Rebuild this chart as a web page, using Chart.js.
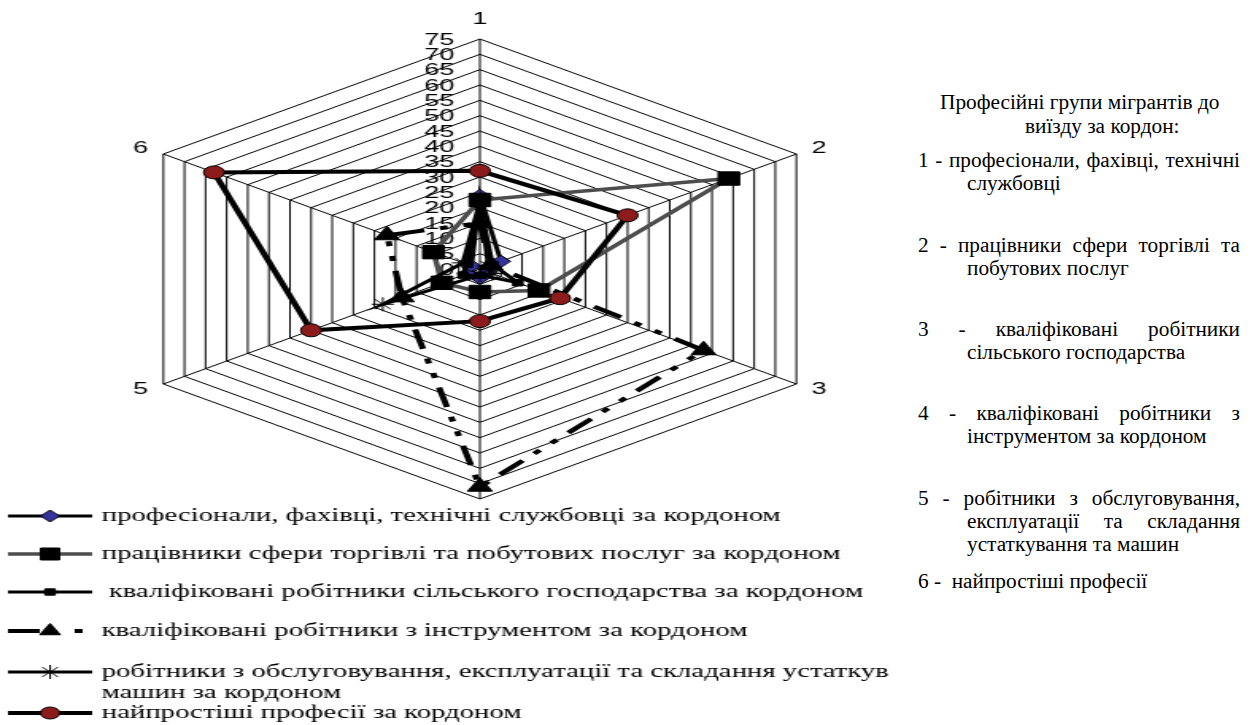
<!DOCTYPE html>
<html>
<head>
<meta charset="utf-8">
<title>Професійні групи мігрантів</title>
<script src="https://cdn.jsdelivr.net/npm/chart.js"></script>
<style>
  body { margin: 0; background: #fff; width: 1256px; height: 725px; overflow: hidden; position: relative; }
  /* the original picture is an Excel chart stretched sideways, so the canvas is stretched too */
  #wrap { position: absolute; left: 0; top: 0; width: 566px; height: 725px; transform: scaleX(1.589); transform-origin: 0 0; }
  .t { position: absolute; font-family: "Liberation Serif", "Times New Roman", serif; font-size: 21.3px; line-height: 23px; color: #000; white-space: nowrap; }
  .j { text-align: justify; text-align-last: justify; width: 322px; }
  .j2 { text-align: justify; text-align-last: justify; width: 273px; }
</style>
</head>
<body>
<div id="wrap"><canvas id="radar" width="566" height="725"></canvas></div>

<div class="t" style="left:940px; top:91px;">Професійні групи мігрантів до</div>
<div class="t" style="left:1025px; top:115px;">виїзду за кордон:</div>

<div class="t j" style="left:918px; top:149px;">1 - професіонали, фахівці, технічні</div>
<div class="t" style="left:967px; top:172px;">службовці</div>

<div class="t j" style="left:918px; top:234px;">2 - працівники сфери торгівлі та</div>
<div class="t" style="left:967px; top:257px;">побутових послуг</div>

<div class="t j" style="left:918px; top:318px;">3 - кваліфіковані робітники</div>
<div class="t" style="left:967px; top:341px;">сільського господарства</div>

<div class="t j" style="left:918px; top:402px;">4 - кваліфіковані робітники з</div>
<div class="t" style="left:967px; top:425px;">інструментом за кордоном</div>

<div class="t j" style="left:918px; top:487px;">5 - робітники з обслуговування,</div>
<div class="t j2" style="left:967px; top:510px;">експлуатації та складання</div>
<div class="t" style="left:967px; top:533px;">устаткування та машин</div>

<div class="t" style="left:918px; top:570px; white-space:pre;">6 -  найпростіші професії</div>

<script>
// axes of the radar (professional groups before leaving)
const categories = ['1', '2', '3', '4', '5', '6'];

// share of migrants abroad, %, by group before leaving
const profesionaly = [24, 5, 2, 3, 3, 2];
const torhivlia = [22.5, 59, 14, 7.5, 9, 11];
const silske = [21, 3, 9, 2, 4, 3];
const instrument = [15, 2.5, 53, 71, 18.5, 22];
const obsluhovuvannia = [22, 2, 3, 2, 23, 4];
const naiprostishi = [32, 35, 19, 17, 40, 63];

const seriesNames = [
    'професіонали, фахівці, технічні службовці за кордоном',
    'працівники сфери торгівлі та побутових послуг за кордоном',
    ' кваліфіковані робітники сільського господарства за кордоном',
    'кваліфіковані робітники з інструментом за кордоном',
    'робітники з обслуговування, експлуатації та складання устаткув\nмашин за кордоном',
    'найпростіші професії за кордоном'
];

// tick labels sit left of axis 1, like in Excel
const tickLabels = {
    id: 'tickLabels',
    beforeDatasetsDraw(chart) {
        const r = chart.scales.r;
        const ctx = chart.ctx;
        ctx.save();
        ctx.font = '17px "Liberation Sans", Arial, sans-serif';
        ctx.fillStyle = '#000';
        ctx.textAlign = 'right';
        ctx.textBaseline = 'middle';
        r.ticks.forEach(t => {
            const p = r.getPointPositionForValue(0, t.value);
            ctx.fillText(String(t.value), p.x - 16, p.y + 1);
        });
        ctx.restore();
    }
};

// category numbers outside the hexagon
const axisLabels = {
    id: 'axisLabels',
    afterDraw(chart) {
        const r = chart.scales.r;
        const ctx = chart.ctx;
        ctx.save();
        ctx.font = '17px "Liberation Sans", Arial, sans-serif';
        ctx.fillStyle = '#000';
        categories.forEach((c, i) => {
            const p = r.getPointPosition(i, r.drawingArea + 11);
            const dx = p.x - r.xCenter;
            ctx.textAlign = Math.abs(dx) < 1 ? 'center' : (dx > 0 ? 'left' : 'right');
            ctx.textBaseline = (Math.abs(dx) < 1) ? (p.y < r.yCenter ? 'bottom' : 'top') : 'middle';
            ctx.fillText(c, p.x, p.y);
        });
        ctx.restore();
    }
};

// legend with line + marker samples under the radar (white box, as in Excel)
const lineLegend = {
    id: 'lineLegend',
    afterDraw(chart) {
        const ctx = chart.ctx;
        const rows = [516, 554, 592, 631, 672, 713];
        const x0 = 5, x1 = 58, xm = 31.5, xt = 64;
        ctx.save();
        ctx.fillStyle = '#ffffff';
        ctx.fillRect(0, 502, 560, 223);
        chart.data.datasets.forEach((ds, i) => {
            const y = rows[i];
            ctx.save();
            ctx.strokeStyle = ds.borderColor;
            ctx.lineWidth = ds.borderWidth;
            ctx.setLineDash(i === 3 ? [20, 22, 5, 40] : []);
            ctx.beginPath();
            ctx.moveTo(x0, y);
            ctx.lineTo(x1, y);
            ctx.stroke();
            ctx.setLineDash([]);
            ctx.fillStyle = ds.pointBackgroundColor;
            ctx.strokeStyle = ds.pointBorderColor;
            ctx.lineWidth = ds.pointBorderWidth;
            Chart.helpers.drawPoint(ctx, {
                pointStyle: ds.pointStyle,
                radius: ds.legendRadius,
                rotation: 0,
                borderWidth: ds.pointBorderWidth
            }, xm, y);
            ctx.restore();

            ctx.fillStyle = '#000';
            ctx.font = '18.1px "Liberation Serif", "Times New Roman", serif';
            ctx.textAlign = 'left';
            ctx.textBaseline = 'alphabetic';
            ds.label.split('\n').forEach((line, k) => {
                ctx.fillText(line, xt, y + 5 + k * 21);
            });
        });
        ctx.restore();
    }
};

const ctx = document.getElementById('radar').getContext('2d');
const chart = new Chart(ctx, {
    type: 'radar',
    data: {
        labels: categories,
        datasets: [{
            label: seriesNames[0],
            data: profesionaly,
            borderColor: '#000000',
            borderWidth: 3,
            pointStyle: 'rectRot',
            pointRadius: 6,
            legendRadius: 6,
            pointBackgroundColor: '#333399',
            pointBorderColor: '#000000',
            pointBorderWidth: 1,
            order: 5
        }, {
            label: seriesNames[1],
            data: torhivlia,
            borderColor: '#4d4d4d',
            borderWidth: 3.5,
            pointStyle: 'rect',
            pointRadius: 9.5,
            legendRadius: 8.5,
            pointBackgroundColor: '#000000',
            pointBorderColor: '#000000',
            pointBorderWidth: 1,
            order: 4
        }, {
            label: seriesNames[2],
            data: silske,
            borderColor: '#000000',
            borderWidth: 3,
            pointStyle: 'rect',
            pointRadius: 4.5,
            legendRadius: 4.5,
            pointBackgroundColor: '#000000',
            pointBorderColor: '#000000',
            pointBorderWidth: 1,
            order: 3
        }, {
            label: seriesNames[3],
            data: instrument,
            borderColor: '#000000',
            borderWidth: 4,
            borderDash: [20, 10, 5, 10, 5, 10],
            pointStyle: 'triangle',
            pointRadius: 9,
            legendRadius: 7.5,
            pointBackgroundColor: '#000000',
            pointBorderColor: '#000000',
            pointBorderWidth: 1,
            order: 2
        }, {
            label: seriesNames[4],
            data: obsluhovuvannia,
            borderColor: '#000000',
            borderWidth: 3,
            pointStyle: 'star',
            pointRadius: 7,
            legendRadius: 7,
            pointBackgroundColor: '#000000',
            pointBorderColor: '#000000',
            pointBorderWidth: 1,
            order: 1
        }, {
            label: seriesNames[5],
            data: naiprostishi,
            borderColor: '#000000',
            borderWidth: 4,
            pointStyle: 'circle',
            pointRadius: 6.5,
            legendRadius: 6,
            pointBackgroundColor: '#8c1c1c',
            pointBorderColor: '#000000',
            pointBorderWidth: 1,
            order: 0
        }]
    },
    options: {
        responsive: false,
        animation: false,
        devicePixelRatio: 1,
        layout: { padding: { left: 72, right: 34, top: 39, bottom: 226 } },
        elements: { line: { tension: 0, fill: false } },
        scales: {
            r: {
                min: 0,
                max: 75,
                ticks: { stepSize: 5, display: false },
                grid: { color: '#000000', lineWidth: 1 },
                angleLines: { color: '#000000', lineWidth: 1 },
                pointLabels: { display: false }
            }
        },
        plugins: {
            legend: { display: false },
            tooltip: { enabled: false }
        }
    },
    plugins: [tickLabels, axisLabels, lineLegend]
});
</script>
</body>
</html>
